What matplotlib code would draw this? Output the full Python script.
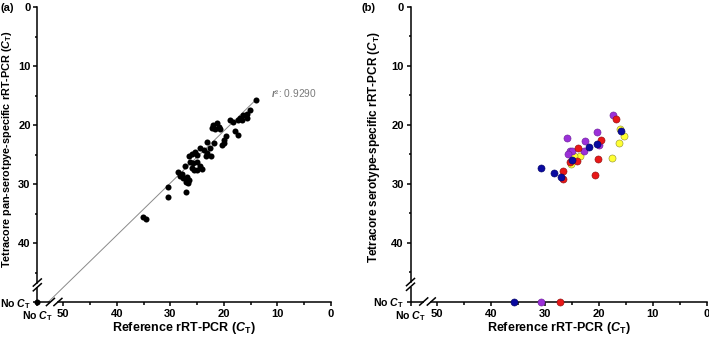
import numpy as np
import matplotlib
matplotlib.use('Agg')
import matplotlib.pyplot as plt
from matplotlib.ticker import FixedLocator
from matplotlib.lines import Line2D

plt.rcParams['font.family'] = ['Liberation Sans', 'DejaVu Sans']
plt.rcParams['font.weight'] = 'bold'
plt.rcParams['mathtext.fontset'] = 'custom'
plt.rcParams['mathtext.rm'] = 'Liberation Sans:bold'
plt.rcParams['mathtext.it'] = 'Liberation Sans:italic:bold'
plt.rcParams['mathtext.bf'] = 'Liberation Sans:bold'
plt.rcParams['mathtext.sf'] = 'Liberation Sans:italic'

# ---------------- data ----------------
# position used for "No CT" (nan) on each axis
NO_CT_X = 54.85
NO_CT_Y = 50.0

# Panel (a): reference CT vs Tetracore pan-serotype CT (nan = no CT)
ref_a = [14.0, 15.2, 15.7, 16.5, 17.0, 15.7, 16.7, 17.3, 18.8, 18.3,
         17.9, 17.3, 19.6, 20.0, 20.4, 20.0, 21.3, 22.0, 21.0, 22.3,
         20.7, 21.6, 23.1, 21.8, 22.6, 23.2, 22.4, 23.3, 24.4, 23.8,
         25.4, 25.9, 25.1, 26.6, 27.2, 26.3, 25.7, 25.1, 26.0, 25.1,
         24.1, 25.5, 24.4, 28.5, 27.9, 27.7, 28.2, 26.8, 26.5, 26.7,
         27.05, 27.0, 30.5, 30.5, 35.2, 34.6, np.nan]
tet_a = [15.7, 17.5, 18.1, 18.3, 18.8, 18.8, 19.1, 19.2, 19.2, 19.5,
         21.1, 21.7, 21.9, 22.5, 23.4, 23.1, 19.7, 20.0, 20.3, 20.5,
         20.7, 20.7, 22.8, 23.1, 23.9, 24.8, 25.3, 25.3, 23.9, 24.2,
         24.5, 24.9, 25.0, 25.3, 26.9, 26.2, 26.4, 26.2, 27.3, 27.6,
         27.5, 27.7, 26.9, 27.9, 28.3, 29.0, 28.6, 28.8, 29.3, 29.8,
         29.6, 31.3, 30.5, 32.2, 35.6, 36.0, np.nan]

# regression line
fit_slope = 0.884
fit_intercept = 3.32
fit_x_range = [14.0, 52.8]
r2_label = "0.9290"

# Panel (b): reference CT vs Tetracore serotype-specific CT, by group
purple_ref = [17.3, 20.4, 19.9, 22.5, 22.7, 25.8, 25.4, 25.0, 25.6, 30.7]
purple_tet = [18.4, 21.3, 23.4, 22.7, 24.4, 22.3, 24.4, 24.5, 24.9, np.nan]
red_ref = [16.8, 19.6, 20.2, 20.6, 23.9, 24.1, 25.4, 26.7, 26.6, 27.2]
red_tet = [19.0, 22.6, 25.8, 28.5, 23.9, 26.1, 26.4, 27.9, 29.2, np.nan]
blue_ref = [15.9, 20.4, 21.8, 24.9, 30.7, 28.2, 27.0, 35.6]
blue_tet = [21.1, 23.2, 23.7, 25.9, 27.4, 28.2, 28.8, np.nan]
yellow_ref = [16.1, 15.4, 16.2, 17.5, 23.4, 24.6, 25.2]
yellow_tet = [20.7, 21.9, 23.1, 25.6, 25.3, 25.3, 26.7]

x_major = [50, 40, 30, 20, 10, 0]
y_major = [0, 10, 20, 30, 40]
minor_ticks = [45, 35, 25, 15, 5]
no_ct_label = r"No $\mathit{C}_{\mathrm{T}}$"

# ---------------- figure ----------------
W, H = 709, 337
fig = plt.figure(figsize=(W / 100, H / 100), dpi=100)

def px_rect(l, r, t, b):
    return [l / W, 1 - b / H, (r - l) / W, (b - t) / H]

ax_a = fig.add_axes(px_rect(37.3, 331.0, 7.0, 302.0))
ax_b = fig.add_axes(px_rect(410.5, 706.7, 7.0, 301.5))

LW = 1.1
YGAP = (46.7, 47.5)
XGAP = (51.0, 52.4)


def fill_noct(vals, pos):
    a = np.asarray(vals, dtype=float)
    return np.where(np.isnan(a), pos, a)


def style_axes(ax, ylabel, ylabel_size, panel, panel_x, ylabel_xy):
    ax.set_xlim(NO_CT_X, 0)
    ax.set_ylim(NO_CT_Y, 0)
    for s in ['top', 'right']:
        ax.spines[s].set_visible(False)
    for s in ['left', 'bottom']:
        ax.spines[s].set_linewidth(LW)
    ax.spines['left'].set_bounds(0, YGAP[0])
    ax.spines['bottom'].set_bounds(0, XGAP[0])
    ax.xaxis.set_major_locator(FixedLocator(x_major + [NO_CT_X]))
    ax.set_xticklabels([f"{v:g}" for v in x_major] + [no_ct_label])
    ax.yaxis.set_major_locator(FixedLocator(y_major + [NO_CT_Y]))
    ax.set_yticklabels([f"{v:g}" for v in y_major] + [no_ct_label])
    ax.xaxis.set_minor_locator(FixedLocator(minor_ticks))
    ax.yaxis.set_minor_locator(FixedLocator(minor_ticks))
    ax.tick_params(which='major', direction='out', length=3.2, width=LW,
                   labelsize=8, pad=2)
    ax.tick_params(which='minor', direction='out', length=1.8, width=LW)
    ax.tick_params(axis='y', which='major', pad=1.6)
    for lab in ax.get_xticklabels() + ax.get_yticklabels():
        lab.set_fontweight('bold')
    ax.get_yticklabels()[-1].set_fontsize(7.6)
    ax.get_xticklabels()[-1].set_fontsize(7.6)
    ax.set_xlabel(r"Reference rRT-PCR ($\mathit{C}_{\mathrm{T}}$)",
                  fontsize=9, fontweight='bold')
    ax.set_ylabel(ylabel, fontsize=ylabel_size, fontweight='bold')
    ax.yaxis.set_label_coords(*ylabel_xy)
    ax.xaxis.set_label_coords(0.5, -0.062)
    # remaining spine segments beyond the breaks
    ax.plot([NO_CT_X, NO_CT_X], [YGAP[1], NO_CT_Y], color='k', lw=LW,
            clip_on=False, solid_capstyle='butt', zorder=3)
    ax.plot([NO_CT_X, XGAP[1]], [NO_CT_Y, NO_CT_Y], color='k', lw=LW,
            clip_on=False, solid_capstyle='butt', zorder=3)
    # break slashes
    dx, dy = 4.0, 3.6
    pts = [(NO_CT_X, YGAP[0]), (NO_CT_X, YGAP[1]),
           (XGAP[0], NO_CT_Y), (XGAP[1], NO_CT_Y)]
    for p in pts:
        cx, cy = ax.transData.transform(p)
        fig.add_artist(Line2D([(cx - dx) / W, (cx + dx) / W],
                              [(cy - dy) / H, (cy + dy) / H],
                              transform=fig.transFigure, color='k', lw=LW))
    fig.text(panel_x / W, 1 - 8 / H, panel,
             fontsize=8, fontweight='bold', ha='left', va='center')


# Panel (a)
style_axes(ax_a, r"Tetracore pan-serotpye-specific rRT-PCR ($\mathit{C}_{\mathrm{T}}$)",
           7.8, "(a)", 0.5, (-0.08, 0.517))
xf = np.array(fit_x_range)
ax_a.plot(xf, fit_slope * xf + fit_intercept, color='#8a8a8a', lw=0.7, zorder=2,
          clip_on=False)
ax_a.scatter(fill_noct(ref_a, NO_CT_X), fill_noct(tet_a, NO_CT_Y), s=19,
             color='black', zorder=4, clip_on=False, linewidths=0)
ax_a.text(11.2, 14.6, r"$\mathsf{r}$" + "\u00b2: " + r2_label, fontsize=7.3,
          fontweight='normal', color='#7a7a7a', ha='left', va='center')

# Panel (b)
style_axes(ax_b, r"Tetracore serotype-specific rRT-PCR ($\mathit{C}_{\mathrm{T}}$)",
           8.5, "(b)", 361, (-0.096, 0.525))
groups = [
    (yellow_ref, yellow_tet, '#FFFF33', '#8c8c30'),
    (purple_ref, purple_tet, '#9B30D8', '#6a2096'),
    (red_ref, red_tet, '#E81818', '#8a1010'),
    (blue_ref, blue_tet, '#0A0AA0', '#050560'),
]
for rx, ty, fc, ec in groups:
    ax_b.scatter(fill_noct(rx, NO_CT_X), fill_noct(ty, NO_CT_Y), s=26,
                 facecolor=fc, edgecolor=ec, linewidths=0.4, zorder=4,
                 clip_on=False)

fig.savefig('out.png', dpi=100)
